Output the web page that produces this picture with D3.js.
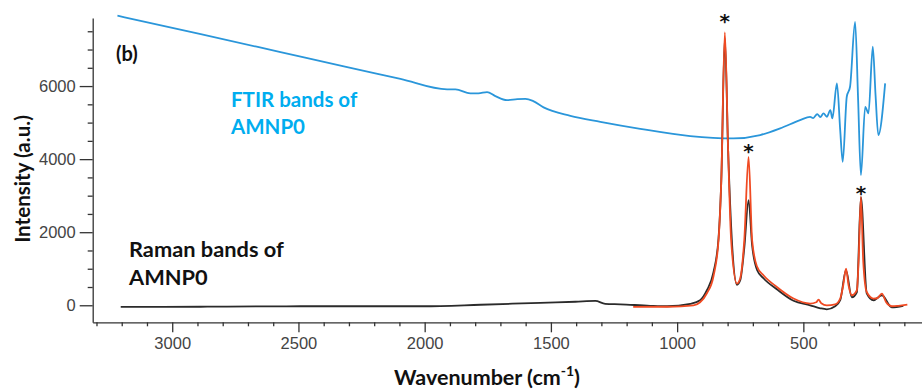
<!DOCTYPE html>
<html>
<head>
<meta charset="utf-8">
<script src="https://cdn.jsdelivr.net/npm/d3@7"></script>
<style>
  body { margin: 0; background: #fff; }
  svg { display: block; }
  .lbl { font-family: Lato, "Open Sans", sans-serif; font-weight: 700; }
</style>
</head>
<body>
<svg id="chart" width="922" height="391"></svg>
<script>
// wavenumber (cm-1), intensity (a.u.)
var ftir = [
  [3217, 7926], [2887, 7420], [2571, 6930], [2307, 6520], [2096, 6196], [1911, 5910],
  [1878, 5910], [1819, 5800], [1787, 5800], [1753, 5836], [1720, 5726], [1674, 5616],
  [1633, 5644], [1601, 5652], [1570, 5589], [1529, 5416], [1423, 5186], [1304, 5022],
  [1146, 4830], [948, 4630], [777, 4567], [671, 4658], [592, 4841], [513, 5068],
  [473, 5159], [461, 5123], [445, 5233], [433, 5151], [420, 5252], [407, 5159],
  [393, 5342], [385, 5115], [367, 6074], [354, 4795], [344, 3926], [328, 5707],
  [315, 5981], [295, 7753], [283, 5616], [272, 3562], [255, 5433], [242, 5252],
  [225, 7077], [214, 5753], [203, 4658], [176, 6074]
];

var ramanBlack = [
  [3204, -46], [2888, -40], [2492, -27], [2005, -27], [1779, 14], [1542, 68],
  [1403, 96], [1324, 118], [1285, 41], [1225, 27], [1107, -14], [1040, -27],
  [948, 41], [909, 137], [882, 411], [856, 904], [836, 1836], [825, 3425],
  [811, 7315], [798, 4247], [782, 1644], [763, 562], [750, 685], [734, 1562],
  [717, 2877], [703, 1644], [683, 959], [658, 740], [605, 438], [539, 123],
  [473, 0], [433, -82], [407, -110], [374, -27], [354, 137], [331, 959],
  [308, 219], [288, 356], [272, 2959], [249, 329], [222, 137], [189, 274],
  [150, -55], [104, -14]
];

var ramanRed = [
  [1174, -46], [1040, -40], [935, 0], [909, 82], [882, 329], [856, 795],
  [836, 1781], [825, 3425], [811, 7470], [798, 4247], [786, 1781], [763, 594],
  [750, 740], [734, 1781], [717, 4063], [703, 1781], [684, 1068], [658, 822],
  [605, 501], [539, 184], [473, 47], [449, 82], [440, 156], [429, 55],
  [407, 0], [374, 27], [354, 184], [342, 548], [331, 1005], [321, 548],
  [308, 274], [288, 411], [281, 1233], [272, 2967], [263, 1233], [249, 364],
  [222, 184], [208, 192], [189, 320], [172, 82], [150, -27], [124, -14], [88, 20]
];

// where the asterisks sit (centre of the glyph)
var starMarks = [[811, 7880], [717, 4320], [272, 3170]];
var xTicks = [3000, 2500, 2000, 1500, 1000, 500];
var yTicks = [0, 2000, 4000, 6000];

var svg = d3.select("#chart");

var x = d3.scaleLinear().domain([3315, 30]).range([92.7, 922]),
    y = d3.scaleLinear().domain([-466, 7863]).range([322.3, 18]);

var xMinor = d3.range(100, 3301, 100).filter(function(d) { return d % 500 != 0; }),
    yMinor = d3.range(500, 7501, 500).filter(function(d) { return d % 2000 != 0; });

// x axis
var gx = svg.append("g").attr("transform", "translate(0," + y.range()[0] + ")");
gx.call(d3.axisBottom(x).tickValues(xTicks).tickFormat(d3.format("d"))
  .tickSize(10).tickSizeOuter(0).tickPadding(5));
gx.append("g").call(d3.axisBottom(x).tickValues(xMinor).tickSize(4).tickFormat(""))
  .select(".domain").remove();

// y axis
var gy = svg.append("g").attr("transform", "translate(" + x.range()[0] + ",0)");
gy.call(d3.axisLeft(y).tickValues(yTicks).tickFormat(d3.format("d"))
  .tickSize(13).tickSizeOuter(0).tickPadding(4));
gy.append("g").call(d3.axisLeft(y).tickValues(yMinor).tickSize(5).tickFormat(""))
  .select(".domain").remove();

svg.selectAll(".domain, .tick line").attr("stroke", "#333").attr("stroke-width", 1.3);
svg.selectAll(".tick text")
  .attr("font-family", "'Liberation Sans', Arial, sans-serif")
  .attr("font-size", 16.5).attr("fill", "#444");

var line = d3.line()
  .x(function(d) { return x(d[0]); })
  .y(function(d) { return y(d[1]); })
  .curve(d3.curveMonotoneX);

svg.append("path").datum(ftir)
  .attr("d", line).attr("fill", "none").attr("stroke", "#2a96da").attr("stroke-width", 1.8);

svg.append("path").datum(ramanBlack)
  .attr("d", line).attr("fill", "none").attr("stroke", "#2b2b2b").attr("stroke-width", 1.8);

svg.append("path").datum(ramanRed)
  .attr("d", line).attr("fill", "none").attr("stroke", "#f04a22").attr("stroke-width", 1.8);

// asterisks over the Raman peaks
svg.selectAll(".star").data(starMarks).enter().append("text")
  .attr("class", "star")
  .attr("x", function(d) { return x(d[0]); })
  .attr("y", function(d) { return y(d[1]) + 11; })
  .attr("text-anchor", "middle")
  .attr("font-family", "'DejaVu Sans', sans-serif")
  .attr("font-weight", 700)
  .attr("font-size", 20)
  .attr("fill", "#111")
  .text("*");

// labels
svg.append("text").attr("class", "lbl").attr("x", 116).attr("y", 61)
  .attr("font-size", 20).attr("fill", "#111").text("(b)");

var ftirLbl = svg.append("text").attr("class", "lbl").attr("fill", "#00adef").attr("font-size", 20.5);
ftirLbl.append("tspan").attr("x", 231).attr("y", 107).text("FTIR bands of");
ftirLbl.append("tspan").attr("x", 231).attr("y", 134).text("AMNP0");

var ramanLbl = svg.append("text").attr("class", "lbl").attr("fill", "#111").attr("font-size", 21.8);
ramanLbl.append("tspan").attr("x", 129).attr("y", 257).text("Raman bands of");
ramanLbl.append("tspan").attr("x", 129).attr("y", 285).text("AMNP0");

svg.append("text").attr("class", "lbl")
  .attr("transform", "translate(30,179) rotate(-90)")
  .attr("text-anchor", "middle").attr("font-size", 20.6).attr("fill", "#111")
  .text("Intensity (a.u.)");

var xt = svg.append("text").attr("class", "lbl")
  .attr("x", 487).attr("y", 385)
  .attr("text-anchor", "middle").attr("font-size", 21.5).attr("fill", "#111");
xt.append("tspan").text("Wavenumber (cm");
xt.append("tspan").attr("font-size", 14).attr("dy", -9).text("-1");
xt.append("tspan").attr("dy", 9).text(")");
</script>
</body>
</html>
